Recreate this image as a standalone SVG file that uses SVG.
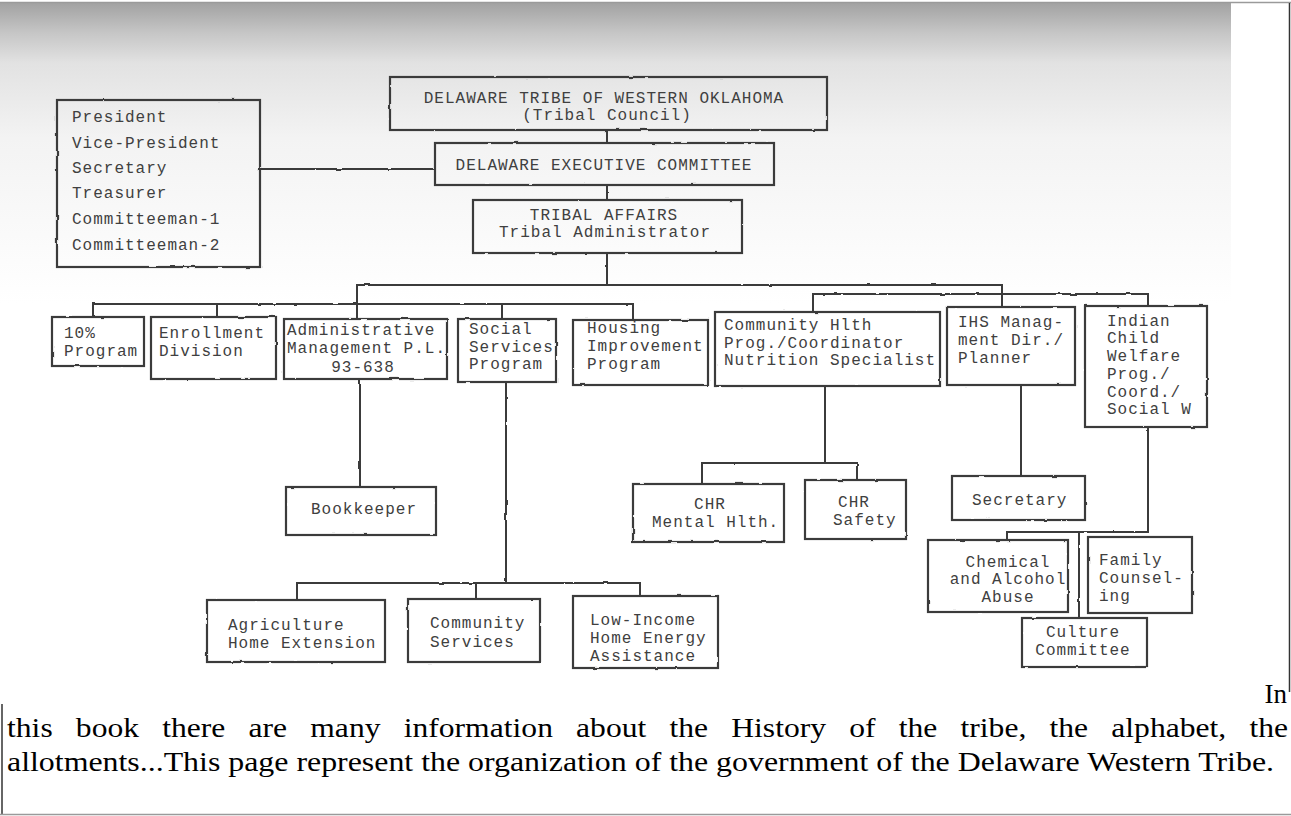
<svg xmlns="http://www.w3.org/2000/svg" width="1291" height="816" viewBox="0 0 1291 816">
<defs>
<linearGradient id="scan" x1="0" y1="0" x2="0" y2="1">
<stop offset="0" stop-color="#a2a2a2"/>
<stop offset="0.1" stop-color="#c6c6c6"/>
<stop offset="0.2" stop-color="#e2e2e2"/>
<stop offset="0.45" stop-color="#f3f3f3"/>
<stop offset="1" stop-color="#ffffff"/>
</linearGradient>
<filter id="rough" x="-5%" y="-5%" width="110%" height="110%">
<feTurbulence type="fractalNoise" baseFrequency="0.08" numOctaves="2" seed="3"/>
<feDisplacementMap in="SourceGraphic" scale="2" xChannelSelector="R" yChannelSelector="G"/>
</filter>
<style>
.box{fill:none;stroke:#3a3a3a;stroke-width:2.2}
.ln{fill:none;stroke:#3a3a3a;stroke-width:2}
.t{font-family:"Liberation Mono","Courier New",monospace;font-size:16px;letter-spacing:1px;fill:#404040}
.c{text-anchor:middle}
.b{font-family:"Liberation Serif","Times New Roman",serif;font-size:27px;fill:#000}
</style>
</defs>
<rect x="0" y="0" width="1291" height="816" fill="#ffffff"/>
<rect x="0" y="3" width="1231" height="300" fill="url(#scan)"/>
<line x1="0" y1="2.5" x2="1291" y2="2.5" stroke="#9a9a9a" stroke-width="1.5"/>
<line x1="1289.5" y1="3" x2="1289.5" y2="692" stroke="#333" stroke-width="1.5"/>
<line x1="2" y1="704" x2="2" y2="815" stroke="#333" stroke-width="1.5"/>
<line x1="0" y1="814.5" x2="1291" y2="814.5" stroke="#9a9a9a" stroke-width="1.5"/>

<g id="connectors" filter="url(#rough)">
<path class="ln" d="M260 169 H435"/>
<path class="ln" d="M607 130 V143 M607 185 V200 M607 253 V285"/>
<path class="ln" d="M357 319 V285 H1002 V307"/>
<path class="ln" d="M93 317 V304 H633 V320 M217 304 V317 M502 304 V319"/>
<path class="ln" d="M813 312 V294 H1148 V306"/>
<path class="ln" d="M360 379 V487"/>
<path class="ln" d="M506 382 V583 M297 600 V583 H640 V596 M476 583 V599"/>
<path class="ln" d="M825 386 V463 M702 484 V463 H857 V480"/>
<path class="ln" d="M1021 385 V476"/>
<path class="ln" d="M1148 427 V532 H1007 V540"/>
<path class="ln" d="M1079 532 V618" stroke-width="3"/>
</g>

<g id="officers">
<rect class="box" x="57" y="100" width="203" height="167" filter="url(#rough)"/>
<text class="t" x="72" y="122">President</text>
<text class="t" x="72" y="148">Vice-President</text>
<text class="t" x="72" y="173">Secretary</text>
<text class="t" x="72" y="198">Treasurer</text>
<text class="t" x="72" y="224">Committeeman-1</text>
<text class="t" x="72" y="250">Committeeman-2</text>
</g>
<g id="council">
<rect class="box" x="390" y="77" width="437" height="53" filter="url(#rough)"/>
<text class="t c" x="604" y="103">DELAWARE TRIBE OF WESTERN OKLAHOMA</text>
<text class="t c" x="607" y="120">(Tribal Council)</text>
</g>
<g id="exec">
<rect class="box" x="435" y="143" width="339" height="42" filter="url(#rough)"/>
<text class="t c" x="604" y="170">DELAWARE EXECUTIVE COMMITTEE</text>
</g>
<g id="affairs">
<rect class="box" x="473" y="200" width="269" height="53" filter="url(#rough)"/>
<text class="t c" x="604" y="220">TRIBAL AFFAIRS</text>
<text class="t c" x="605" y="237">Tribal Administrator</text>
</g>
<g id="ten">
<rect class="box" x="52" y="317" width="92" height="49" filter="url(#rough)"/>
<text class="t" x="64" y="338">10%</text>
<text class="t" x="64" y="356">Program</text>
</g>
<g id="enroll">
<rect class="box" x="151" y="317" width="125" height="62" filter="url(#rough)"/>
<text class="t" x="159" y="338">Enrollment</text>
<text class="t" x="159" y="356">Division</text>
</g>
<g id="admin">
<rect class="box" x="284" y="319" width="163" height="60" filter="url(#rough)"/>
<text class="t" x="287" y="335">Administrative</text>
<text class="t" x="287" y="353">Management P.L.</text>
<text class="t c" x="363" y="372">93-638</text>
</g>
<g id="social">
<rect class="box" x="458" y="319" width="98" height="63" filter="url(#rough)"/>
<text class="t" x="469" y="334">Social</text>
<text class="t" x="469" y="352">Services</text>
<text class="t" x="469" y="369">Program</text>
</g>
<g id="housing">
<rect class="box" x="573" y="320" width="135" height="65" filter="url(#rough)"/>
<text class="t" x="587" y="333">Housing</text>
<text class="t" x="587" y="351">Improvement</text>
<text class="t" x="587" y="369">Program</text>
</g>
<g id="commhlth">
<rect class="box" x="715" y="312" width="225" height="74" filter="url(#rough)"/>
<text class="t" x="724" y="330">Community Hlth</text>
<text class="t" x="724" y="348">Prog./Coordinator</text>
<text class="t" x="724" y="365">Nutrition Specialist</text>
</g>
<g id="ihs">
<rect class="box" x="947" y="307" width="128" height="78" filter="url(#rough)"/>
<text class="t" x="958" y="327">IHS Manag-</text>
<text class="t" x="958" y="345">ment Dir./</text>
<text class="t" x="958" y="363">Planner</text>
</g>
<g id="icw">
<rect class="box" x="1085" y="306" width="122" height="121" filter="url(#rough)"/>
<text class="t" x="1107" y="326">Indian</text>
<text class="t" x="1107" y="343">Child</text>
<text class="t" x="1107" y="361">Welfare</text>
<text class="t" x="1107" y="379">Prog./</text>
<text class="t" x="1107" y="397">Coord./</text>
<text class="t" x="1107" y="414">Social W</text>
</g>
<g id="bookkeeper">
<rect class="box" x="286" y="487" width="150" height="48" filter="url(#rough)"/>
<text class="t" x="311" y="514">Bookkeeper</text>
</g>
<g id="agri">
<rect class="box" x="207" y="600" width="178" height="62" filter="url(#rough)"/>
<text class="t" x="228" y="630">Agriculture</text>
<text class="t" x="228" y="648">Home Extension</text>
</g>
<g id="commserv">
<rect class="box" x="408" y="599" width="132" height="63" filter="url(#rough)"/>
<text class="t" x="430" y="628">Community</text>
<text class="t" x="430" y="647">Services</text>
</g>
<g id="lowinc">
<rect class="box" x="573" y="596" width="145" height="72" filter="url(#rough)"/>
<text class="t" x="590" y="625">Low-Income</text>
<text class="t" x="590" y="643">Home Energy</text>
<text class="t" x="590" y="661">Assistance</text>
</g>
<g id="chrmh">
<rect class="box" x="633" y="484" width="151" height="58" filter="url(#rough)"/>
<text class="t c" x="710" y="509">CHR</text>
<text class="t" x="652" y="527">Mental Hlth.</text>
</g>
<g id="chrs">
<rect class="box" x="805" y="480" width="101" height="59" filter="url(#rough)"/>
<text class="t c" x="854" y="507">CHR</text>
<text class="t" x="833" y="525">Safety</text>
</g>
<g id="secretary">
<rect class="box" x="952" y="476" width="133" height="44" filter="url(#rough)"/>
<text class="t" x="972" y="505">Secretary</text>
</g>
<g id="chem">
<rect class="box" x="928" y="540" width="140" height="72" filter="url(#rough)"/>
<text class="t c" x="1008" y="567">Chemical</text>
<text class="t c" x="1008" y="584">and Alcohol</text>
<text class="t c" x="1008" y="602">Abuse</text>
</g>
<g id="family">
<rect class="box" x="1088" y="537" width="104" height="76" filter="url(#rough)"/>
<text class="t" x="1099" y="565">Family</text>
<text class="t" x="1099" y="583">Counsel-</text>
<text class="t" x="1099" y="601">ing</text>
</g>
<g id="culture">
<rect class="box" x="1022" y="618" width="125" height="49" filter="url(#rough)"/>
<text class="t c" x="1083" y="637">Culture</text>
<text class="t c" x="1083" y="655">Committee</text>
</g>

<g id="caption">
<text class="b" x="1287" y="703" text-anchor="end">In</text>
<text class="b" transform="translate(7 737) scale(1.17 1)" word-spacing="13" textLength="1094.9" lengthAdjust="spacing">this book there are many information about the History of the tribe, the alphabet, the</text>
<text class="b" x="7" y="771" textLength="1267" lengthAdjust="spacingAndGlyphs">allotments...This page represent the organization of the government of the Delaware Western Tribe.</text>
</g>
</svg>
